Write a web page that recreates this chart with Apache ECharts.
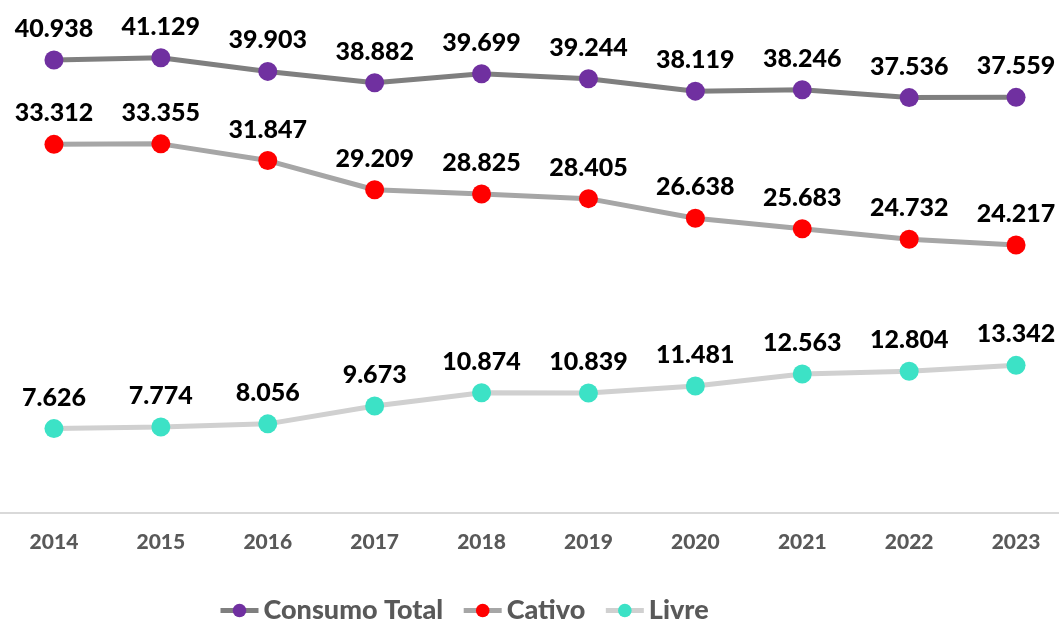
<!DOCTYPE html>
<html><head><meta charset="utf-8">
<script src="https://cdn.jsdelivr.net/npm/echarts@6/dist/echarts.min.js"></script>
<style>html,body{margin:0;padding:0;background:#fff;overflow:hidden;width:1059px;height:622px}#c{width:1070px;height:622px}</style>
</head><body><div id="c"></div>
<script>
const years = ['2014','2015','2016','2017','2018','2019','2020','2021','2022','2023'];
const consumoTotal = [40.938,41.129,39.903,38.882,39.699,39.244,38.119,38.246,37.536,37.559];
const cativo = [33.312,33.355,31.847,29.209,28.825,28.405,26.638,25.683,24.732,24.217];
const livre = [7.626,7.774,8.056,9.673,10.874,10.839,11.481,12.563,12.804,13.342];

const font = 'Lato';
function fmt(v){ return v.toFixed(3); }
function mk(name, data, lineColor, dotColor){
  return {
    name, type:'line', data,
    symbol:'circle', symbolSize:19,
    lineStyle:{color:lineColor, width:5},
    itemStyle:{color:dotColor, borderWidth:0},
    label:{show:true, position:'top', distance:9, color:'#000', fontFamily:font, fontWeight:900, fontSize:25,
      formatter:p=>fmt(p.value)},
    emphasis:{disabled:true},
    animation:false
  };
}
const chart = echarts.init(document.getElementById('c'));
chart.setOption({
  animation:false,
  grid:{left:0.5, right:0.5, top:15, bottom:109, containLabel:false},
  xAxis:{type:'category', data:years, boundaryGap:true,
    axisLine:{lineStyle:{color:'#d9d9d9', width:2}},
    axisTick:{show:false},
    axisLabel:{color:'#595959', fontFamily:font, fontWeight:900, fontSize:21, margin:19}},
  yAxis:{type:'value', min:0, max:45, show:false, splitLine:{show:false}},
  legend:{left:213, top:592, itemWidth:38, itemHeight:17, itemGap:18,
    lineStyle:{width:5},
    textStyle:{color:'#595959', fontFamily:font, fontWeight:900, fontSize:27},
    data:['Consumo Total','Cativo','Livre']},
  series:[
    mk('Consumo Total', consumoTotal, '#7f7f7f', '#7030a0'),
    mk('Cativo', cativo, '#a6a6a6', '#ff0000'),
    mk('Livre', livre, '#d0d0d0', '#3ce2c6')
  ]
});
</script></body></html>
